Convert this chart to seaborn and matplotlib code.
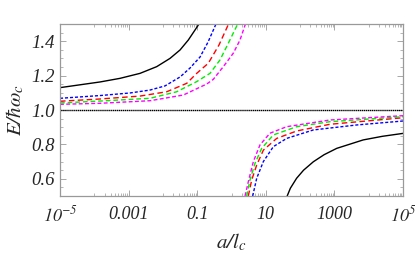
import numpy as np
import pandas as pd
import matplotlib
matplotlib.use("Agg")
import matplotlib.pyplot as plt
from matplotlib.ticker import NullFormatter
import seaborn as sns

# --- data (a/l_c, E/hbar w_c) ---
# upper branches (E > 1)
black_up_a = [1e-5, 1.47e-4, 5.61e-4, 2.15e-3, 6.59e-3, 0.0161, 0.0316, 0.0551, 0.0863, 0.1127]
black_up_E = [1.130, 1.163, 1.184, 1.213, 1.252, 1.300, 1.349, 1.407, 1.465, 1.5]
blue_up_a = [1e-5, 1.47e-4, 1.10e-3, 4.21e-3, 0.0115, 0.0316, 0.0617, 0.121, 0.207, 0.353]
blue_up_E = [1.068, 1.084, 1.099, 1.116, 1.140, 1.192, 1.244, 1.308, 1.395, 1.5]
red_up_a = [1e-5, 1.47e-4, 2.15e-3, 0.0129, 0.0494, 0.0966, 0.211, 0.432, 0.755, 0.818]
red_up_E = [1.051, 1.064, 1.081, 1.106, 1.155, 1.213, 1.272, 1.378, 1.484, 1.5]
green_up_a = [1e-5, 1.47e-4, 4.21e-3, 0.0252, 0.0966, 0.236, 0.462, 0.807, 1.516]
green_up_E = [1.041, 1.052, 1.068, 1.106, 1.165, 1.213, 1.291, 1.388, 1.5]
mag_up_a = [1e-5, 1.47e-4, 4.21e-3, 0.0394, 0.189, 0.294, 0.577, 1.127, 1.77, 2.55]
mag_up_E = [1.033, 1.039, 1.054, 1.087, 1.151, 1.178, 1.252, 1.330, 1.407, 1.5]

# lower branches (E < 1)
black_lo_a = [42, 52, 79, 126, 243, 500, 1170, 6900, 25000, 1e5]
black_lo_E = [0.5, 0.545, 0.603, 0.650, 0.699, 0.740, 0.777, 0.826, 0.847, 0.864]
blue_lo_a = [4.15, 5.43, 8.47, 16.6, 40.7, 243, 4470, 1e5]
blue_lo_E = [0.5, 0.603, 0.700, 0.787, 0.835, 0.884, 0.913, 0.936]
red_lo_a = [3.09, 3.88, 5.43, 8.51, 20.8, 79.4, 741, 1e5]
red_lo_E = [0.5, 0.593, 0.680, 0.767, 0.835, 0.878, 0.917, 0.955]
green_lo_a = [2.77, 3.46, 4.84, 7.59, 16.6, 79.4, 741, 1e5]
green_lo_E = [0.5, 0.593, 0.690, 0.777, 0.855, 0.903, 0.932, 0.961]
mag_lo_a = [2.48, 3.09, 4.33, 6.76, 13.2, 40.7, 741, 1e5]
mag_lo_E = [0.5, 0.583, 0.700, 0.797, 0.865, 0.903, 0.942, 0.967]

E_ref = 1.0
x_ticks = [1e-5, 1e-3, 1e-1, 1e1, 1e3, 1e5]
x_ticklabels = [r"$10^{-5}$", "0.001", "0.1", "10", "1000", r"$10^{5}$"]
y_ticks = [0.6, 0.8, 1.0, 1.2, 1.4]
y_ticklabels = ["0.6", "0.8", "1.0", "1.2", "1.4"]

sns.set_style("ticks")
plt.rcParams["font.family"] = ["Liberation Serif", "DejaVu Serif"]
plt.rcParams["font.style"] = "italic"
plt.rcParams["mathtext.fontset"] = "stix"
plt.rcParams["mathtext.default"] = "it"
plt.rcParams["lines.scale_dashes"] = False

fig = plt.figure(figsize=(4.15, 2.56), dpi=100)
ax = fig.add_axes([60 / 415, 60 / 256, 343 / 415, 172 / 256])

curves = [
    (black_up_a, black_up_E, black_lo_a, black_lo_E, "black", "-"),
    (blue_up_a, blue_up_E, blue_lo_a, blue_lo_E, "#0000ff", (0, (2.2, 1.4))),
    (red_up_a, red_up_E, red_lo_a, red_lo_E, "#ff0000", (0, (4.0, 2.4))),
    (green_up_a, green_up_E, green_lo_a, green_lo_E, "#00ee00", (0, (3.4, 2.1))),
    (mag_up_a, mag_up_E, mag_lo_a, mag_lo_E, "#ff00ff", (0, (2.8, 1.7))),
]
for ua, ue, la, le, col, ls in curves:
    for xa, ye in ((ua, ue), (la, le)):
        sns.lineplot(x=xa, y=ye, ax=ax, color=col, linestyle=ls, lw=1.0,
                     sort=False, estimator=None)

ax.axhline(E_ref, color="black", lw=1.0, linestyle=(0, (1.0, 0.4)))

ax.set_xscale("log")
ax.set_xlim(1e-5, 1e5)
ax.set_ylim(0.5, 1.5)
ax.set_xticks(x_ticks)
ax.set_xticklabels(x_ticklabels)
minor_x = [j * 10.0 ** (m - 1) for m in (-3, -1, 1, 3, 5) for j in range(1, 10)]
ax.set_xticks(minor_x, minor=True)
ax.xaxis.set_minor_formatter(NullFormatter())
ax.set_yticks(y_ticks)
ax.set_yticklabels(y_ticklabels)
ax.set_yticks(np.arange(0.5, 1.501, 0.05), minor=True)

ax.tick_params(which="both", direction="in", top=True, right=True,
               color="#999999")
ax.tick_params(axis="x", labelsize=13, pad=7)
ax.tick_params(axis="y", labelsize=13.5, pad=4)
ax.tick_params(which="major", length=4, width=0.6)
ax.tick_params(which="minor", length=2, width=0.5)
for sp in ax.spines.values():
    sp.set_color("#999999")
    sp.set_linewidth(0.9)

ax.set_xlabel(r"$a/l_c$", fontsize=15, labelpad=4)
ax.set_ylabel(r"$E/\hbar\omega_c$", fontsize=15, labelpad=3)

fig.savefig("out.png", dpi=100)
